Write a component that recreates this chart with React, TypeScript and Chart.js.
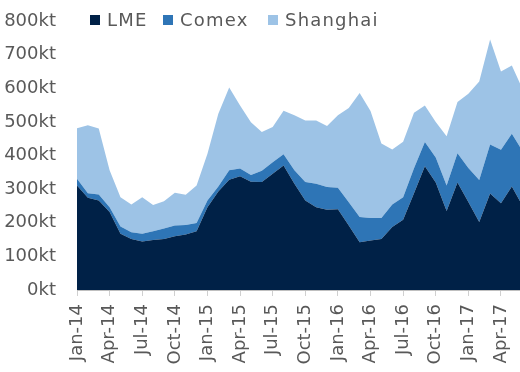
import React, { useEffect, useRef } from "react";
import { Chart, registerables } from "chart.js";

Chart.register(...registerables);

const months = [
  "Jan-14", "Feb-14", "Mar-14", "Apr-14", "May-14", "Jun-14", "Jul-14", "Aug-14", "Sep-14", "Oct-14", "Nov-14", "Dec-14",
  "Jan-15", "Feb-15", "Mar-15", "Apr-15", "May-15", "Jun-15", "Jul-15", "Aug-15", "Sep-15", "Oct-15", "Nov-15", "Dec-15",
  "Jan-16", "Feb-16", "Mar-16", "Apr-16", "May-16", "Jun-16", "Jul-16", "Aug-16", "Sep-16", "Oct-16", "Nov-16", "Dec-16",
  "Jan-17", "Feb-17", "Mar-17", "Apr-17", "May-17", "Jun-17",
];

const lme = [
  311, 274, 266, 232, 167, 152, 144, 149, 152, 160, 165, 175,
  246, 293, 328, 338, 322, 321, 346, 370, 316, 266, 246, 239,
  240, 192, 142, 147, 152, 187, 209, 288, 368, 320, 235, 320,
  262, 202, 287, 258, 308, 249,
];

const comex = [
  20, 14, 18, 14, 22, 20, 23, 26, 31, 32, 28, 24,
  20, 15, 28, 23, 20, 34, 34, 34, 40, 55, 70, 67,
  64, 69, 75, 67, 62, 67, 67, 74, 72, 74, 76, 87,
  101, 125, 146, 159, 157, 163,
];

const shanghai = [
  150, 202, 196, 110, 87, 82, 109, 78, 81, 97, 90, 112,
  139, 216, 246, 188, 157, 115, 105, 129, 164, 183, 188, 182,
  216, 280, 369, 318, 222, 164, 165, 165, 109, 106, 146, 152,
  221, 293, 312, 233, 203, 184,
];

const seriesNames = ["LME", "Comex", "Shanghai"];
const seriesColors = ["#002147", "#2e75b6", "#9dc3e6"];
const legendLefts = [90, 163, 268];
const textColor = "#595959";
const fontFamily = "'DejaVu Sans', sans-serif";

export default function App() {
  const ref = useRef<HTMLCanvasElement>(null);

  useEffect(() => {
    const canvas = ref.current;
    if (!canvas) return;
    const toPts = (arr: number[]) => arr.map((v, i) => ({ x: i, y: v }));
    const series = [lme, comex, shanghai];
    const chart = new Chart(canvas, {
      type: "line",
      data: {
        datasets: series.map((arr, k) => ({
          label: seriesNames[k],
          data: toPts(arr),
          backgroundColor: seriesColors[k],
          borderColor: seriesColors[k],
          borderWidth: 0,
          pointRadius: 0,
          tension: 0,
          fill: k === 0 ? "origin" : "-1",
        })),
      },
      options: {
        animation: false,
        responsive: false,
        layout: { padding: { top: 21, right: 0, left: 0, bottom: 0 } },
        plugins: { legend: { display: false }, tooltip: { enabled: false } },
        font: { family: fontFamily },
        scales: {
          x: {
            type: "linear",
            min: 0,
            max: 40.75,
            grid: { display: true, drawOnChartArea: false, drawTicks: true, tickLength: 6, color: "#d0d0d0" },
            border: { display: true, color: "#bfbfbf", width: 1 },
            ticks: {
              stepSize: 3,
              includeBounds: false,
              autoSkip: false,
              maxRotation: 90,
              minRotation: 90,
              padding: 8,
              color: textColor,
              font: { family: fontFamily, size: 18 },
              callback: (v: any) => months[v as number] ?? "",
            },
            afterFit: (s: any) => {
              s.height = 82;
              s.paddingLeft = 0;
              s.paddingRight = 0;
            },
          },
          y: {
            stacked: true,
            min: 0,
            max: 800,
            grid: { display: false, drawTicks: false },
            border: { display: false },
            ticks: {
              stepSize: 100,
              padding: 21,
              color: textColor,
              font: { family: fontFamily, size: 18 },
              callback: (v: any) => `${v}kt`,
            },
            afterFit: (s: any) => {
              s.width = 77;
              s.paddingTop = 0;
              s.paddingBottom = 0;
            },
          },
        },
      } as any,
    });
    return () => chart.destroy();
  }, []);

  return (
    <div style={{ position: "fixed", left: 0, top: 0, width: 520, height: 372, overflow: "hidden", background: "#fff" }}>
      <canvas ref={ref} width={520} height={372} style={{ width: 520, height: 372, display: "block" }} />
      {seriesNames.map((name, k) => (
        <div
          key={name}
          style={{
            position: "absolute",
            left: legendLefts[k],
            top: 9,
            display: "flex",
            alignItems: "center",
            fontFamily,
            fontSize: 18,
            lineHeight: "22px",
            letterSpacing: 1.2,
            color: textColor,
            whiteSpace: "nowrap",
          }}
        >
          <span style={{ display: "inline-block", width: 10, height: 10, background: seriesColors[k], marginRight: 7 }} />
          <span>{name}</span>
        </div>
      ))}
    </div>
  );
}
